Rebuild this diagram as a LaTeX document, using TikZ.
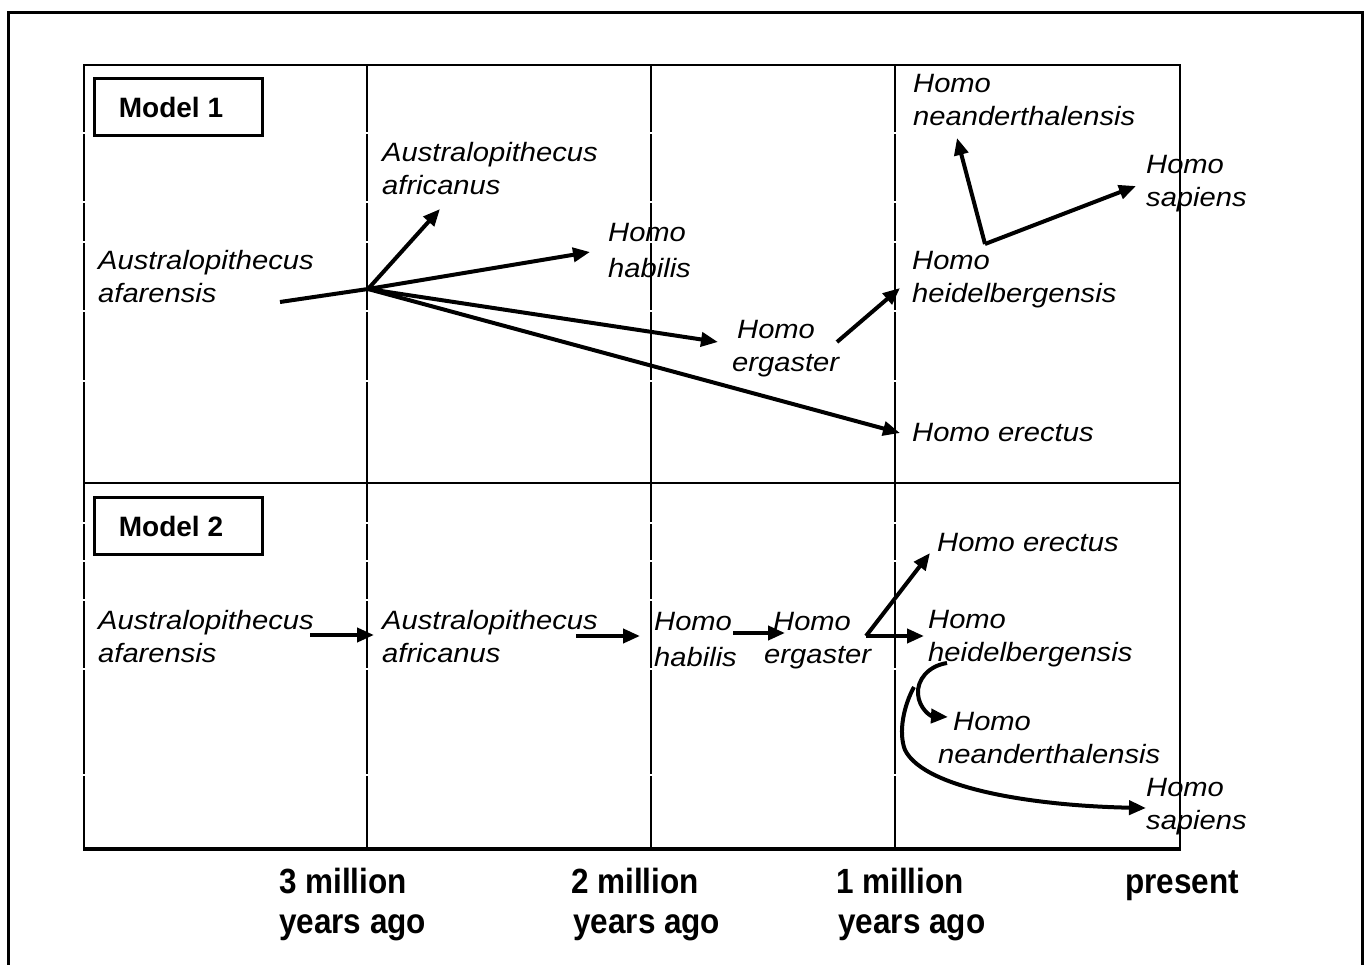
\documentclass[tikz,border=0pt]{standalone}
\usepackage{fontspec}
\setmainfont{Liberation Sans}
\newfontfamily\spfont[FakeStretch=1.10]{Liberation Sans}
\newfontfamily\tlfont[FakeStretch=0.9]{Liberation Sans}
\usetikzlibrary{arrows.meta}
\begin{document}
\begin{tikzpicture}[x=1pt,y=-1pt,
  sp/.style={font=\spfont\itshape\fontsize{26.5}{33}\selectfont, anchor=base west, inner sep=0pt, align=left},
  mdl/.style={draw, line width=3pt, minimum width=168pt, minimum height=57pt, inner sep=0pt, font=\bfseries\fontsize{28}{34}\selectfont},
  tl/.style={font=\tlfont\bfseries\fontsize{35}{40}\selectfont, anchor=base west, inner sep=0pt, align=left},
  arr/.style={line width=4pt, -{Triangle[length=17pt,width=14pt]}},
  stem/.style={line width=4pt},
  grid/.style={line width=1.5pt},
  gap/.style={draw=white, line width=1.3pt}
]
\useasboundingbox (0,0) rectangle (1371,965);
\fill[white] (0,0) rectangle (1371,965);
% outer frame
\begin{scope}
\clip (0,0) rectangle (1371,965);
\draw[line width=3pt] (8,13) rectangle (1362,1000);
\end{scope}
% grid
\draw[grid] (84,849) -- (84,65) -- (1180,65) -- (1180,849);
\draw[line width=3.2pt] (83,849) -- (1181,849);
\draw[grid] (84,483) -- (1180,483);
\foreach \x in {367,651,895} \draw[grid] (\x,65) -- (\x,849);
\foreach \x in {84,367,651,895}
  \foreach \y in {133,202,242,311,381,523,561,600,669,775}
    \draw[gap] (\x-4,\y) -- (\x+4,\y);

% model boxes
\node[mdl] (m1) at (178,107) {Model 1\hspace*{14pt}};
\node[mdl] (m2) at (178,526) {Model 2\hspace*{14pt}};

% ---------- Model 1 ----------
\node[sp] (a1afa) at (98,303) {Australopithecus\\afarensis};
\node[sp] (a1afr) at (382,195) {Australopithecus\\africanus};
\node[sp] (a1hab) at (608,278) {Homo\\[3pt]habilis};
\node[sp] (a1erg) at (732,372) {\hspace{5pt}Homo\\ergaster};
\node[sp] (a1hei) at (912,303) {Homo\\heidelbergensis};
\node[sp] (a1ere) at (912,442) {Homo erectus};
\node[sp] (a1nea) at (913,126) {Homo\\neanderthalensis};
\node[sp] (a1sap) at (1146,207) {Homo\\sapiens};

\coordinate (p1s) at (280,302);
\coordinate (p1h) at (368,289);
\coordinate (p1afr) at (440,209);
\coordinate (p1hab) at (590,252);
\coordinate (p1erg) at (718,342);
\coordinate (p1ere) at (900,433);
\coordinate (p1es) at (837,342);
\coordinate (p1hei) at (900,288);
\coordinate (p1hh) at (985,244);
\coordinate (p1nea) at (957,138);
\coordinate (p1sap) at (1136,186);

\draw[stem] (p1s) -- (p1h);
\draw[arr] (p1h) -- (p1afr);
\draw[arr] (p1h) -- (p1hab);
\draw[arr] (p1h) -- (p1erg);
\draw[arr] (p1h) -- (p1ere);
\draw[arr] (p1es) -- (p1hei);
\draw[arr] (p1hh) -- (p1nea);
\draw[arr] (p1hh) -- (p1sap);

% ---------- Model 2 ----------
\node[sp] (a2afa) at (98,662) {Australopithecus\\afarensis};
\node[sp] (a2afr) at (382,662) {Australopithecus\\africanus};
\node[sp] (a2hab) at (654,666) {Homo\\[3pt]habilis};
\node[sp] (a2erg) at (764,663) {\hspace{9pt}Homo\\ergaster};
\node[sp] (a2ere) at (937,551) {Homo erectus};
\node[sp] (a2hei) at (928,661) {Homo\\heidelbergensis};
\node[sp] (a2nea) at (938,763) {\hspace{15pt}Homo\\neanderthalensis};
\node[sp] (a2sap) at (1146,829) {Homo\\sapiens};

\coordinate (q1s) at (310,635);
\coordinate (q1e) at (374,635);
\coordinate (q2s) at (576,636);
\coordinate (q2e) at (640,636);
\coordinate (q3s) at (733,633);
\coordinate (q3e) at (785,633);
\coordinate (qh) at (866,636);
\coordinate (qhei) at (924,636);
\coordinate (qere) at (930,553);
\coordinate (qcs) at (947,663);
\coordinate (qnea) at (948,717);
\coordinate (qsap) at (1146,808);

\draw[arr] (q1s) -- (q1e);
\draw[arr] (q2s) -- (q2e);
\draw[arr] (q3s) -- (q3e);
\draw[arr] (qh) -- (qhei);
\draw[arr] (qh) -- (qere);
\draw[arr] (qcs) .. controls (928,666) and (917,680) .. (918,694)
  .. controls (919,708) and (930,716) .. (qnea);
\draw[arr] (914,687) .. controls (904,705) and (898,732) .. (905,750)
  .. controls (925,790) and (1040,806) .. (qsap);

% bottom time labels
\node[tl] (t3) at (279,933) {3 million\\years ago};
\node[tl] (t2) at (571,933) {2 million\\\hspace{2pt}years ago};
\node[tl] (t1) at (836,933) {1 million\\\hspace{2pt}years ago};
\node[tl] (t0) at (1125,893) {present};
\end{tikzpicture}
\end{document}
